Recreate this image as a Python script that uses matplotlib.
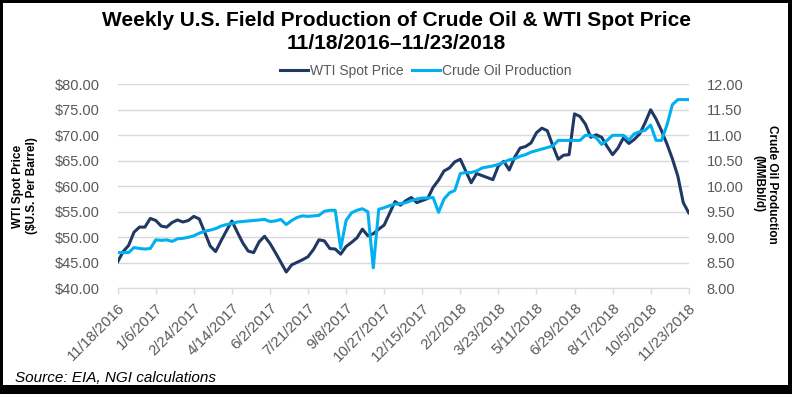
import matplotlib
matplotlib.use("Agg")
import matplotlib.pyplot as plt
from matplotlib.lines import Line2D
from matplotlib.patches import Rectangle
import numpy as np

plt.rcParams['font.family'] = ['Liberation Sans', 'DejaVu Sans']

# weekly values, 11/18/2016 .. 11/23/2018 (106 weeks)
wti_price = [
    45.2, 47.2, 48.4, 51.0, 52.0, 52.0, 53.7, 53.3, 52.2, 52.0,
    52.9, 53.4, 53.0, 53.3, 54.1, 53.6, 51.0, 48.3, 47.2, 49.3,
    51.3, 53.2, 51.0, 48.9, 47.3, 47.0, 49.1, 50.2, 48.8, 47.0,
    45.1, 43.2, 44.6, 45.1, 45.6, 46.2, 47.6, 49.5, 49.3, 47.8,
    47.7, 46.7, 48.2, 49.0, 49.9, 51.6, 50.3, 50.7, 51.6, 52.4,
    54.7, 57.0, 56.3, 57.2, 57.8, 56.8, 57.2, 57.6, 59.8, 61.2,
    63.0, 63.6, 64.8, 65.3, 63.0, 60.7, 62.5, 62.1, 61.7, 61.3,
    64.0, 64.9, 63.2, 65.7, 67.5, 67.8, 68.5, 70.5, 71.4, 70.9,
    68.0, 65.3, 66.1, 66.2, 74.2, 73.7, 72.2, 69.6, 70.1, 69.6,
    67.8, 66.2, 67.5, 69.5, 68.4, 69.2, 70.3, 72.5, 75.0, 73.2,
    70.9, 68.3, 65.4, 62.0, 56.8, 54.8,
]
crude_production = [
    8.70, 8.70, 8.70, 8.80, 8.78, 8.77, 8.78, 8.95, 8.94, 8.95,
    8.92, 8.97, 8.98, 9.00, 9.03, 9.08, 9.12, 9.14, 9.17, 9.22,
    9.25, 9.27, 9.30, 9.31, 9.32, 9.33, 9.34, 9.35, 9.31, 9.32,
    9.35, 9.25, 9.33, 9.39, 9.42, 9.41, 9.42, 9.43, 9.51, 9.53,
    9.53, 8.78, 9.33, 9.48, 9.53, 9.56, 9.50, 8.40, 9.55, 9.58,
    9.62, 9.65, 9.66, 9.68, 9.72, 9.75, 9.77, 9.77, 9.78, 9.49,
    9.75, 9.87, 9.92, 10.25, 10.27, 10.27, 10.30, 10.36, 10.38, 10.40,
    10.43, 10.47, 10.52, 10.54, 10.59, 10.62, 10.67, 10.70, 10.73, 10.76,
    10.79, 10.90, 10.90, 10.90, 10.90, 10.90, 11.00, 11.00, 10.95, 10.82,
    10.90, 11.00, 11.00, 11.00, 10.91, 11.03, 11.07, 11.10, 11.20, 10.90,
    10.90, 11.20, 11.60, 11.70, 11.70, 11.70,
]
date_labels = [
    '11/18/2016', '1/6/2017', '2/24/2017', '4/14/2017', '6/2/2017',
    '7/21/2017', '9/8/2017', '10/27/2017', '12/15/2017', '2/2/2018',
    '3/23/2018', '5/11/2018', '6/29/2018', '8/17/2018', '10/5/2018',
    '11/23/2018',
]

DARK = '#1F3864'
LIGHT = '#00B0F0'
GREY = '#595959'
GRID = '#D9D9D9'

weeks = np.arange(len(wti_price))

fig = plt.figure(figsize=(7.92, 3.94), dpi=100)
ax = fig.add_axes([117.7 / 792, 105.7 / 394, 571 / 792, 204 / 394])
ax2 = ax.twinx()

ax.plot(weeks, wti_price, color=DARK, lw=2.2, solid_joinstyle='round')
ax2.plot(weeks, crude_production, color=LIGHT, lw=2.2, solid_joinstyle='round')

ax.set_xlim(0, len(weeks) - 1)
ax.set_ylim(40, 80)
ax2.set_ylim(8, 12)
ax.set_yticks(np.arange(40, 81, 5))
ax.set_yticklabels(['${:.2f}'.format(v) for v in np.arange(40, 81, 5)])
ax2.set_yticks(np.arange(8, 12.01, 0.5))
ax2.set_yticklabels(['{:.2f}'.format(v) for v in np.arange(8, 12.01, 0.5)])

ax.set_xticks(weeks[::7])
ax.set_xticklabels(date_labels, rotation=45, ha='right', rotation_mode='anchor')

ax.grid(axis='y', color=GRID, lw=1)
ax.set_axisbelow(True)
for a in (ax, ax2):
    for s in ('top', 'left', 'right'):
        a.spines[s].set_visible(False)
    a.spines['bottom'].set_color(GRID)
ax2.spines['bottom'].set_visible(False)

ax.tick_params(axis='y', length=0, pad=13, labelsize=10.5, labelcolor=GREY)
ax2.tick_params(axis='y', length=0, pad=13, labelsize=10.5, labelcolor=GREY)
ax.tick_params(axis='x', length=4, color=GRID, width=1, pad=5, labelsize=10.8, labelcolor=GREY)

fig.text(396 / 792, 1 - 32 / 394,
         'Weekly U.S. Field Production of Crude Oil & WTI Spot Price\n11/18/2016\u201311/23/2018',
         ha='center', va='center', fontsize=15, fontweight='bold', linespacing=1.3)

handles = [Line2D([], [], color=DARK, lw=2.2), Line2D([], [], color=LIGHT, lw=2.2)]
leg = fig.legend(handles, ['WTI Spot Price', 'Crude Oil Production'], loc='center',
                 bbox_to_anchor=(426 / 792, 1 - 71 / 394), ncol=2, frameon=False,
                 fontsize=10, handlelength=2.0, handletextpad=0.15, columnspacing=0.6)
for t in leg.get_texts():
    t.set_color(GREY)

fig.text(25 / 792, 1 - 186 / 394, 'WTI Spot Price\n($U.S. Per Barrel)', rotation=90,
         ha='center', va='center', fontsize=8.5, fontweight='bold')
fig.text(765 / 792, 1 - 184 / 394, 'Crude Oil Production\n(MMBbl/d)', rotation=270,
         ha='center', va='center', fontsize=8.5, fontweight='bold')

fig.text(15 / 792, 1 - 378 / 394, 'Source: EIA, NGI calculations', ha='left', va='center',
         fontsize=11, style='italic')

# black frame around the picture
for x0, y0, w, h in [(0, 0, 3, 394), (788, 0, 4, 394), (0, 0, 792, 9), (0, 391, 792, 3)]:
    fig.add_artist(Rectangle((x0 / 792, y0 / 394), w / 792, h / 394, transform=fig.transFigure,
                             color='black', lw=0))

fig.savefig('out.png', dpi=100)
